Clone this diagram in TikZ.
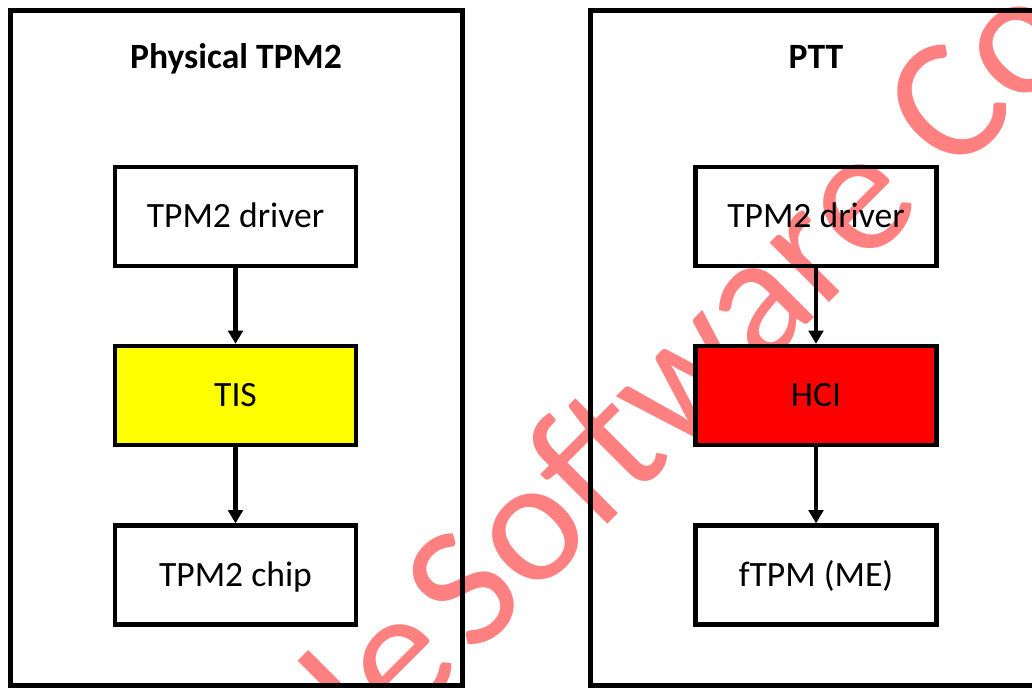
\documentclass[tikz,border=0pt]{standalone}
\usepackage{fontspec}
\setmainfont{Carlito}
\usetikzlibrary{arrows.meta}
\definecolor{wmPink}{HTML}{FF8080}
\definecolor{tisYellow}{HTML}{FFFF00}
\definecolor{hciRed}{HTML}{FF0000}
\newcommand{\layerfont}{\fontsize{26.7}{32}\selectfont}

\begin{document}
\begin{tikzpicture}[x=0.75pt, y=-0.75pt,
  frame/.style={draw, line width=3.75pt},
  layer/.style={draw, line width=3.2pt, minimum width=180.75pt, minimum height=74.25pt,
    inner sep=0pt, text height=17.2pt, text depth=0pt, font=\layerfont},
  title/.style={inner sep=0pt, text height=17.2pt, text depth=0pt, font=\layerfont\bfseries},
  flow/.style={-{Triangle[width=11pt, length=10pt]}, line width=3.3pt}]
  \useasboundingbox (0,0) rectangle (1032,687);
  \clip (0,0) rectangle (1032,687);

  % Watermark
  \node[wmPink, rotate=45, anchor=base west, inner sep=0pt, font=\fontsize{132}{132}\selectfont]
    (wm) at (140,992) {Insyde\kern-.15em{} Software Confidential};

  % Physical TPM2
  \draw[frame] (10,10) rectangle (462,685);
  \node[title] (ptitle) at (236,57.5) {Physical TPM2};
  \node[layer] (pdrv) at (235.5,216.5) {TPM2 driver};
  \node[layer, fill=tisYellow] (tis) at (235.5,395.5) {TIS};
  \node[layer] (chip) at (235.5,575) {TPM2 chip};
  \draw[flow] (pdrv) -- (tis);
  \draw[flow] (tis) -- (chip);

  % PTT
  \draw[frame] (590,10) rectangle (1045,685);
  \node[title] (ttitle) at (816,57.5) {PTT};
  \node[layer] (tdrv) at (816,216.5) {TPM2 driver};
  \node[layer, fill=hciRed] (hci) at (816,395.5) {HCI};
  \node[layer] (ftpm) at (816,575) {fTPM (ME)};
  \draw[flow] (tdrv) -- (hci);
  \draw[flow] (hci) -- (ftpm);
\end{tikzpicture}
\end{document}
